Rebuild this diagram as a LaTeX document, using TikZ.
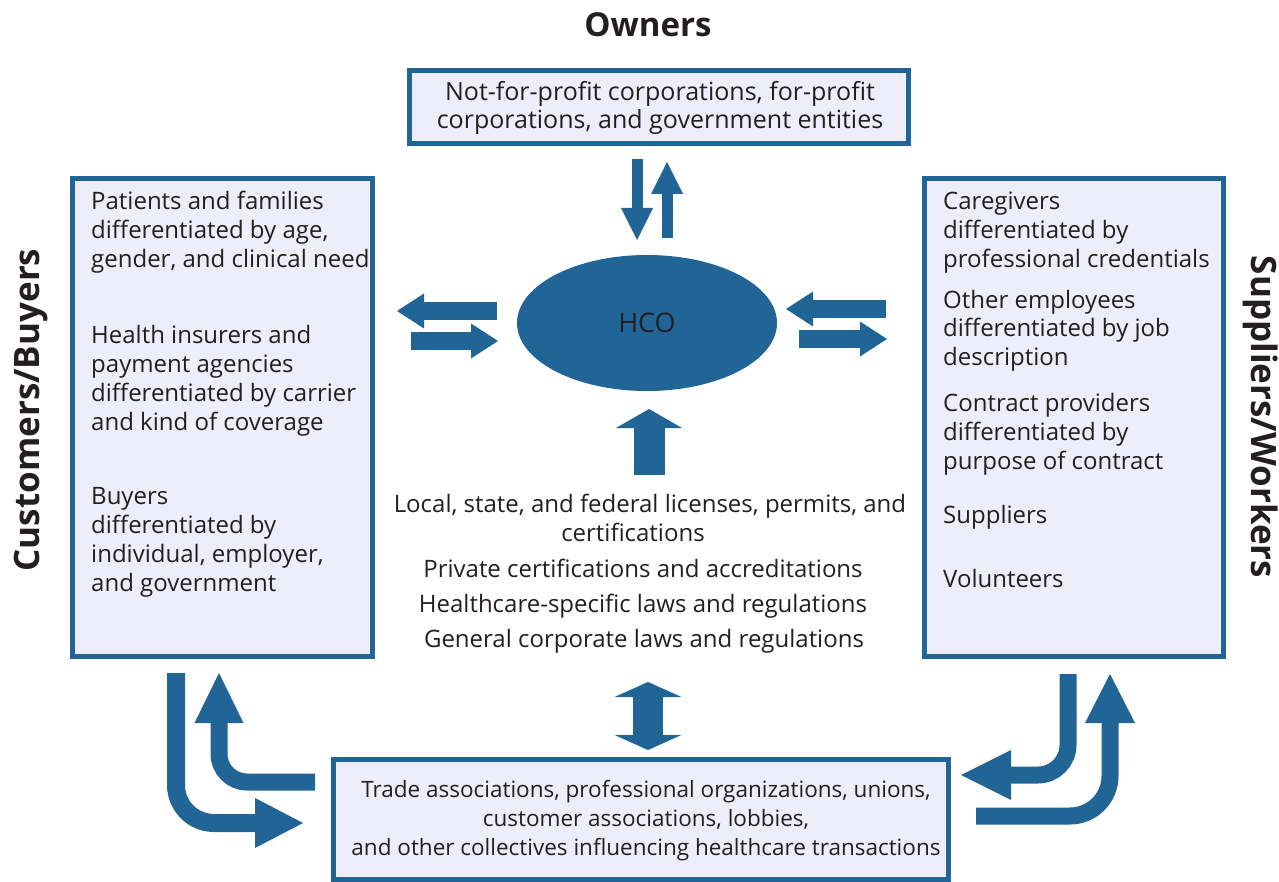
\documentclass[tikz,border=0pt]{standalone}
\usepackage{fontspec}
\setmainfont{Open Sans}
\usetikzlibrary{arrows.meta,shapes.geometric}
\definecolor{hcoblue}{RGB}{33,101,150}
\definecolor{boxfill}{RGB}{238,238,250}
\definecolor{ink}{RGB}{35,31,32}

\begin{document}
\begin{tikzpicture}[x=1pt, y=-1pt, text=ink]
    \tikzset{panel/.style={draw=hcoblue, line width=5pt, fill=boxfill, inner sep=0pt},
             txt/.style={font=\fontsize{24}{29}\selectfont, inner sep=0pt, anchor=base west, align=left},
             ctxt/.style={txt, anchor=base, align=center},
             title/.style={font=\fontsize{35}{40}\selectfont\bfseries, inner sep=0pt},
             flow/.style={draw=hcoblue, line width=#1},
             arrowhead/.style 2 args={-{Triangle[width=#1, length=#2, line width=0pt]}}}
    \useasboundingbox (0,0) rectangle (1279,882);

    % titles
    \node[title, font=\fontsize{33}{40}\selectfont\bfseries] (owners) at (648,25) {Owners};
    \node[title, rotate=90] (custT) at (31,410) {Customers/Buyers};
    \node[title, rotate=-90] (suppT) at (1261,417) {Suppliers/Workers};

    % boxes
    \node[panel, minimum width=499pt, minimum height=73pt] (own) at (659,107) {};
    \node[panel, minimum width=300pt, minimum height=478pt] (cust) at (222.5,417.5) {};
    \node[panel, minimum width=299pt, minimum height=478pt] (supp) at (1074,417.5) {};
    \node[panel, minimum width=615pt, minimum height=120pt] (trade) at (641,819.5) {};
    \node[ellipse, fill=hcoblue, minimum width=260pt, minimum height=136pt, inner sep=0pt,
          font=\fontsize{27}{30}\selectfont] (hco) at (647,323) {HCO};

    % texts (base = last line)
    \node[ctxt, font=\fontsize{25}{28}\selectfont] (ownTxt) at (660,129) {Not-for-profit corporations, for-profit\\corporations, and government entities};

    \node[txt] (pat) at (91,268) {Patients and families\\differentiated by age,\\gender, and clinical need};
    \node[txt] (ins) at (91,430) {Health insurers and\\payment agencies\\differentiated by carrier\\and kind of coverage};
    \node[txt] (buy) at (91,591) {Buyers\\differentiated by\\individual, employer,\\and government};

    \node[txt] (care) at (943,268) {Caregivers\\differentiated by\\professional credentials};
    \node[txt] (emp) at (943,366) {Other employees\\differentiated by job\\description};
    \node[txt] (con) at (943,469) {Contract providers\\differentiated by\\purpose of contract};
    \node[txt] (sup) at (943,523) {Suppliers};
    \node[txt] (vol) at (943,587) {Volunteers};

    \node[ctxt] (lic) at (650,541) {Local, state, and federal licenses, permits, and\\certifications\hspace*{34pt}};
    \node[ctxt] (priv) at (643,577) {Private certifications and accreditations};
    \node[ctxt] (law) at (643,612) {Healthcare-specific laws and regulations};
    \node[ctxt] (gen) at (644,647) {General corporate laws and regulations};

    \node[ctxt, font=\fontsize{22.5}{29}\selectfont] (coll) at (646,855) {Trade associations, professional organizations, unions,\\customer associations, lobbies,\hspace*{18pt}\\and other collectives influencing healthcare transactions};

    % arrow ends
    \coordinate (ownD1) at (637,159);  \coordinate (ownD2) at (637,240);
    \coordinate (ownU1) at (667,238);  \coordinate (ownU2) at (667,162);
    \coordinate (custL1) at (497,311); \coordinate (custL2) at (397,311);
    \coordinate (custR1) at (411,341); \coordinate (custR2) at (498,341);
    \coordinate (suppL1) at (886,309); \coordinate (suppL2) at (786,309);
    \coordinate (suppR1) at (799,339); \coordinate (suppR2) at (887,339);
    \coordinate (lawU1) at (649,475);  \coordinate (lawU2) at (649,409);
    \coordinate (tradeA) at (648,682); \coordinate (tradeB) at (648,750);
    \coordinate (cA1) at (176,673);    \coordinate (cA2) at (303,823);
    \coordinate (cB1) at (315,782);    \coordinate (cB2) at (219,673);
    \coordinate (sC1) at (1068,674);   \coordinate (sC2) at (961,775);
    \coordinate (sD1) at (976,816);    \coordinate (sD2) at (1110,674);

    % arrows
    \draw[flow=11pt, arrowhead={32pt}{32pt}] (ownD1) -- (ownD2);
    \draw[flow=11pt, arrowhead={32pt}{32pt}] (ownU1) -- (ownU2);
    \draw[flow=18pt, arrowhead={35pt}{27pt}] (custL1) -- (custL2);
    \draw[flow=18pt, arrowhead={35pt}{27pt}] (custR1) -- (custR2);
    \draw[flow=18pt, arrowhead={35pt}{27pt}] (suppL1) -- (suppL2);
    \draw[flow=18pt, arrowhead={35pt}{27pt}] (suppR1) -- (suppR2);
    \draw[flow=31pt, arrowhead={66pt}{19pt}] (lawU1) -- (lawU2);
    \draw[flow=30pt, {Triangle[width=67pt, length=15pt, line width=0pt]}-{Triangle[width=67pt, length=15pt, line width=0pt]}] (tradeA) -- (tradeB);

    \draw[flow=18pt, arrowhead={50pt}{48pt}, rounded corners=38pt] (cA1) |- (cA2);
    \draw[flow=17pt, arrowhead={49pt}{50pt}, rounded corners=28pt] (cB1) -| (cB2);
    \draw[flow=17pt, arrowhead={50pt}{50pt}, rounded corners=30pt] (sC1) |- (sC2);
    \draw[flow=17pt, arrowhead={50pt}{49pt}, rounded corners=40pt] (sD1) -| (sD2);
\end{tikzpicture}
\end{document}
